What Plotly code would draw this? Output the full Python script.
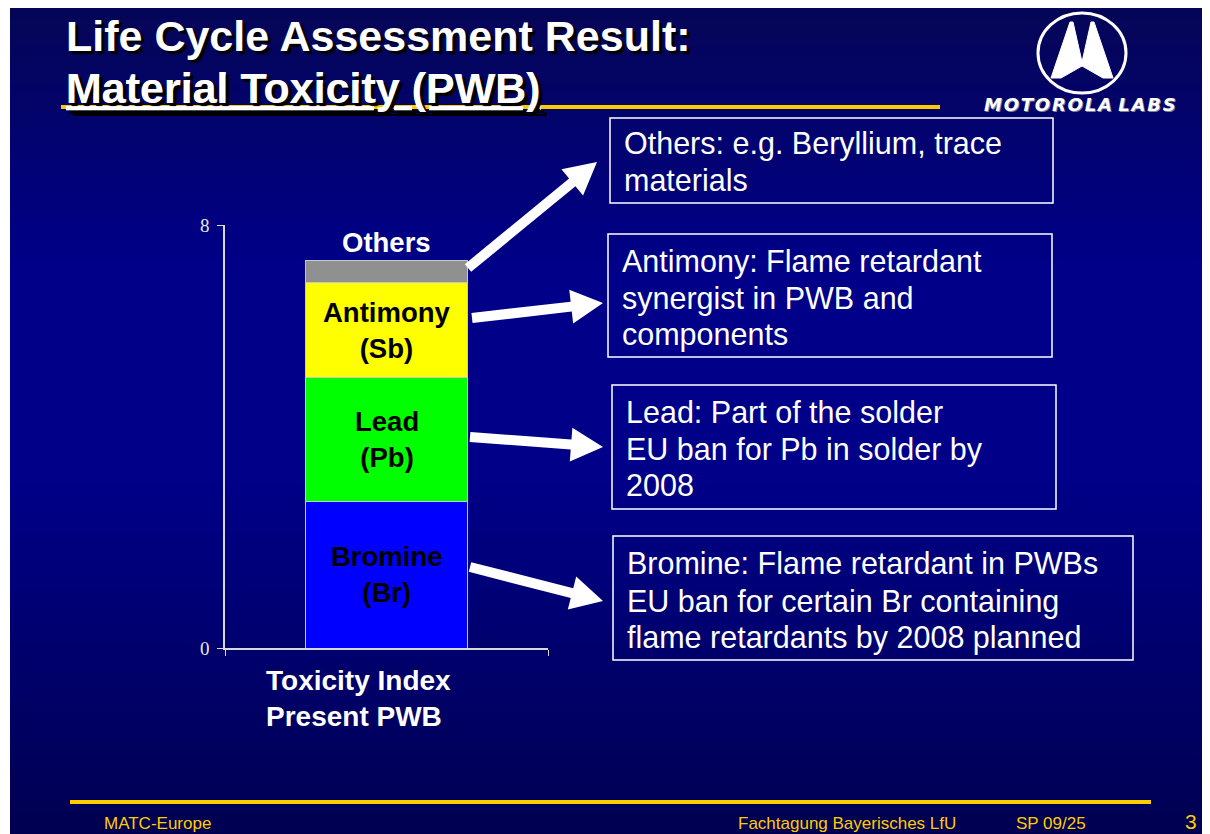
import plotly.graph_objects as go

W, H = 1210, 834
OX, OY = 8, 8  # page offset of the plot div

# data (toxicity index, stacked)
category = ["Present PWB"]
materials = ["Bromine", "Lead", "Antimony", "Others"]
values = [2.78, 2.33, 1.8, 0.41]
bar_colors = ["#0000ff", "#00ff00", "#ffff00", "#909090"]
bar_labels = ["Bromine<br>(Br)", "Lead<br>(Pb)", "Antimony<br>(Sb)", "Others"]
y_ticks = [0, 8]

# callout text lines
callouts = [
    ["Others: e.g. Beryllium, trace", "materials"],
    ["Antimony: Flame retardant", "synergist in PWB and", "components"],
    ["Lead: Part of the solder", "EU ban for Pb in solder by", "2008"],
    ["Bromine: Flame retardant in PWBs", "EU ban for certain Br containing",
     "flame retardants by 2008 planned"],
]

SANS = "Liberation Sans, Arial, sans-serif"
SERIF = "Liberation Serif, Times New Roman, serif"
YELLOW = "#ffcc00"


def px(x):
    return (x - OX) / W


def py(y):
    return 1 - (y - OY) / H


fig = go.Figure()

for name, val, col in zip(materials, values, bar_colors):
    fig.add_trace(go.Bar(
        x=category, y=[val], name=name,
        marker=dict(color=col, line=dict(color="#c8c8c8", width=1)),
        width=0.5, hoverinfo="name+y",
    ))

shapes = []

# slide background gradient: each band runs to the bottom so no seams show
stops = [(0, (6, 6, 86)), (260, (0, 0, 136)), (470, (0, 0, 138)), (842, (0, 0, 80))]
n = 90
step = (H + OY) / n
for i in range(n):
    ya = i * step
    ym = ya + step / 2
    for (s0, c0), (s1, c1) in zip(stops[:-1], stops[1:]):
        if s0 <= ym <= s1:
            t = (ym - s0) / (s1 - s0)
            c = [int(a + (b - a) * t) for a, b in zip(c0, c1)]
            break
    shapes.append(dict(
        type="rect", xref="paper", yref="paper", layer="below",
        x0=px(10), x1=1, y0=0, y1=min(1, py(max(ya, 6))),
        fillcolor=f"rgb({c[0]},{c[1]},{c[2]})", line=dict(width=0),
    ))

# yellow rules
shapes.append(dict(type="rect", xref="paper", yref="paper",
                   x0=px(61), x1=px(940), y0=py(109), y1=py(105),
                   fillcolor=YELLOW, line=dict(width=0)))
shapes.append(dict(type="rect", xref="paper", yref="paper",
                   x0=px(70), x1=px(1151), y0=py(804), y1=py(800),
                   fillcolor=YELLOW, line=dict(width=0)))

# Motorola logo
cx, cy = 1082, 53
shapes.append(dict(type="circle", xref="paper", yref="paper",
                   x0=px(cx - 44), x1=px(cx + 44), y0=py(cy + 40), y1=py(cy - 40),
                   line=dict(color="white", width=3)))
m_pts = [(-31, 25), (-12, -31), (-9, -31), (0, 9), (9, -31), (12, -31), (31, 25),
         (21, 25), (0, 13), (-21, 25)]
path = "M " + " L ".join(f"{px(cx + a)},{py(cy + b)}" for a, b in m_pts) + " Z"
shapes.append(dict(type="path", xref="paper", yref="paper", path=path,
                   fillcolor="white", line=dict(color="white", width=1)))

# callout boxes
boxes = [(610, 118, 1053, 203), (608, 234, 1052, 357),
         (612, 385, 1056, 509), (613, 536, 1133, 660)]
for x0, y0b, x1, y1b in boxes:
    shapes.append(dict(type="rect", xref="paper", yref="paper",
                       x0=px(x0), x1=px(x1), y0=py(y1b), y1=py(y0b),
                       line=dict(color="white", width=1.5)))

# white block arrows from bar to callouts
arrows = [((468, 268), (597, 162)), ((472, 318), (603, 303)),
          ((470, 437), (603, 447)), ((470, 567), (603, 601))]
for (xa, ya), (xb, yb) in arrows:
    dx, dy = xb - xa, yb - ya
    ln = (dx ** 2 + dy ** 2) ** 0.5
    ux, uy = dx / ln, dy / ln
    nx, ny = -uy, ux
    w, hl, hw = 5, 32, 17
    bx, by = xb - ux * hl, yb - uy * hl
    pts = [(xa + nx * w, ya + ny * w), (bx + nx * w, by + ny * w),
           (bx + nx * hw, by + ny * hw), (xb, yb),
           (bx - nx * hw, by - ny * hw), (bx - nx * w, by - ny * w),
           (xa - nx * w, ya - ny * w)]
    p = "M " + " L ".join(f"{px(a)},{py(b)}" for a, b in pts) + " Z"
    shapes.append(dict(type="path", xref="paper", yref="paper", path=p,
                       fillcolor="white", line=dict(width=0)))

annotations = []

# title
shadow = "3px 3px 1px #000000"
annotations.append(dict(
    xref="paper", yref="paper", x=px(64), y=py(36), xanchor="left", yanchor="middle",
    text="<b>Life Cycle Assessment Result:</b>", showarrow=False,
    font=dict(family=SANS, size=43, color="white", shadow=shadow)))
annotations.append(dict(
    xref="paper", yref="paper", x=px(64), y=py(88), xanchor="left", yanchor="middle",
    text="<b><u>Material Toxicity (PWB)</u></b>", showarrow=False,
    font=dict(family=SANS, size=43, color="white", shadow=shadow)))

sp = "\u200a"
annotations.append(dict(
    xref="paper", yref="paper", x=px(1080), y=py(105), xanchor="center", yanchor="middle",
    text="<b><i>" + sp.join("MOTOROLA") + " " + sp.join("LABS") + "</i></b>",
    showarrow=False,
    font=dict(family="DejaVu Sans, sans-serif", size=18, color="white",
              shadow="1px 1px 0px #8080a0")))

# labels inside the bar segments
base = 0
for i, (val, lab) in enumerate(zip(values, bar_labels)):
    if i < len(values) - 1:
        annotations.append(dict(
            x=category[0], y=base + val / 2, xref="x", yref="y",
            text=f"<b>{lab}</b>", showarrow=False,
            font=dict(family=SANS, size=27.5, color="black")))
    else:
        annotations.append(dict(
            x=category[0], y=base + val, xref="x", yref="y", yanchor="bottom", yshift=1,
            text=f"<b>{lab}</b>", showarrow=False,
            font=dict(family=SANS, size=27.5, color="white")))
    base += val

annotations.append(dict(
    xref="paper", yref="paper", x=px(264), y=py(698), xanchor="left", yanchor="middle",
    align="left", text="<b>Toxicity Index<br>Present PWB</b>", showarrow=False,
    font=dict(family=SANS, size=28, color="white")))

# callout text, one annotation per line
line_pos = [(622, [143, 180]), (620, [261, 298, 334]),
            (624, [412, 449, 485]), (625, [563, 601, 637])]
for lines, (lx, ys) in zip(callouts, line_pos):
    for t, ly in zip(lines, ys):
        annotations.append(dict(
            xref="paper", yref="paper", x=px(lx), y=py(ly), xanchor="left",
            yanchor="middle", text=t, showarrow=False,
            font=dict(family=SANS, size=30.5, color="white")))

# footer
foot = dict(family=SANS, size=17, color=YELLOW)
annotations.append(dict(xref="paper", yref="paper", x=px(102), y=py(823),
                        xanchor="left", yanchor="middle", text="MATC-Europe",
                        showarrow=False, font=foot))
annotations.append(dict(xref="paper", yref="paper", x=px(958), y=py(823),
                        xanchor="right", yanchor="middle",
                        text="Fachtagung Bayerisches LfU",
                        showarrow=False, font=foot))
annotations.append(dict(xref="paper", yref="paper", x=px(1088), y=py(823),
                        xanchor="right", yanchor="middle", text="SP 09/25",
                        showarrow=False, font=foot))
annotations.append(dict(xref="paper", yref="paper", x=px(1199), y=py(821),
                        xanchor="right", yanchor="middle", text="3",
                        showarrow=False, font=dict(family=SANS, size=21, color=YELLOW)))

fig.update_layout(
    width=W, height=H,
    margin=dict(l=0, r=0, t=0, b=0, pad=0, autoexpand=False),
    paper_bgcolor="white",
    plot_bgcolor="rgba(0,0,0,0)",
    barmode="stack",
    showlegend=False,
    shapes=shapes,
    annotations=annotations,
    xaxis=dict(
        domain=[px(225), px(548)], showline=True, linecolor="#d8d8d8", linewidth=1.5,
        showgrid=False, zeroline=False, showticklabels=False, automargin=False,
        ticks="outside", tickson="boundaries", ticklen=6, tickcolor="#d8d8d8",
    ),
    yaxis=dict(
        domain=[py(648), py(225)], range=[0, 8], tickvals=y_ticks, automargin=False,
        showline=True, linecolor="#d8d8d8", linewidth=1.5, showgrid=False,
        zeroline=False, ticks="outside", ticklen=6, tickcolor="#d8d8d8",
        ticklabelstandoff=4,
        tickfont=dict(family=SERIF, size=19, color="#e8e8e8"),
    ),
)

fig.write_html("out.html")
